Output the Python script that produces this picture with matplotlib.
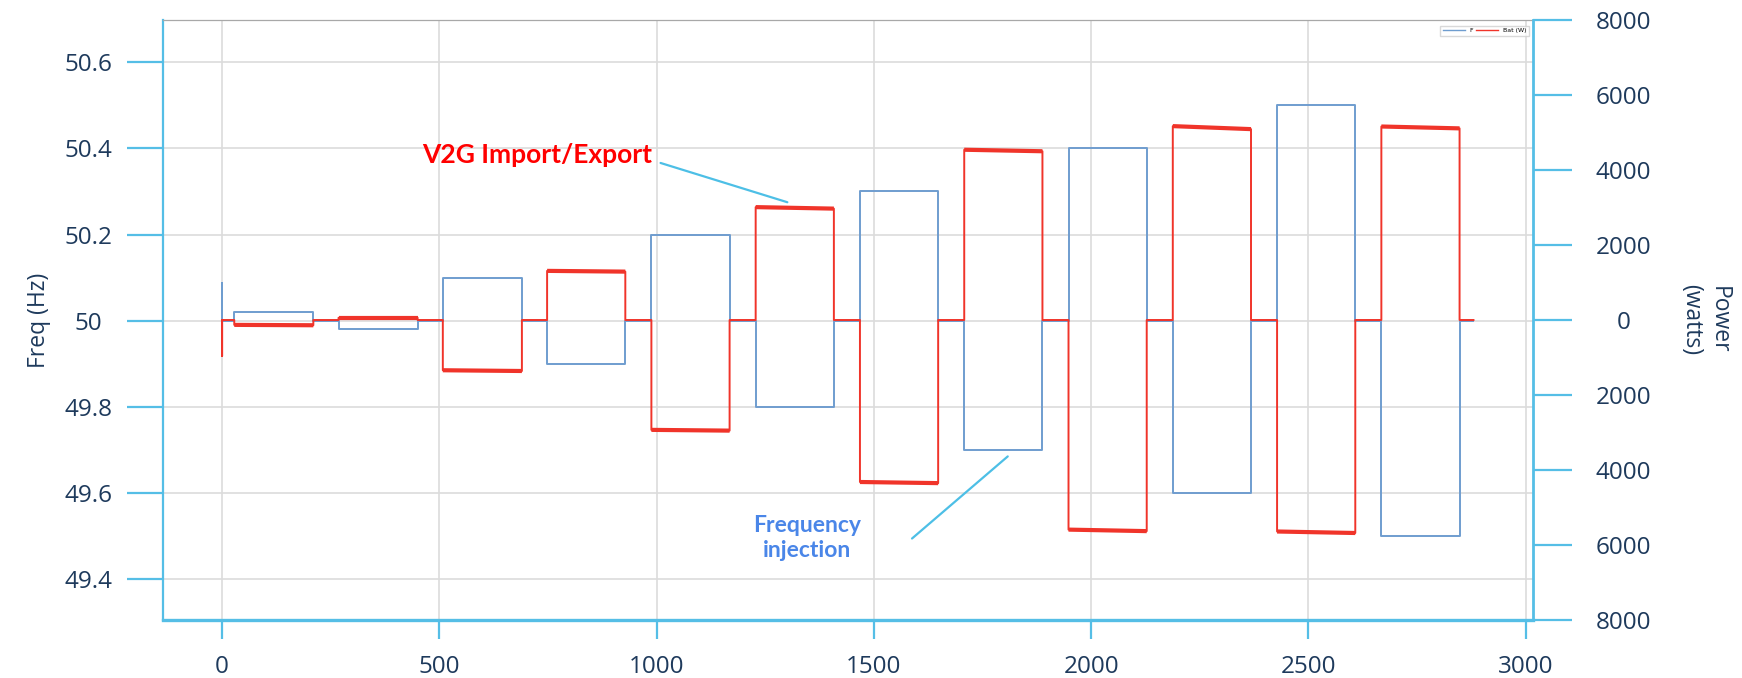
import matplotlib
matplotlib.use("Agg")
import matplotlib.pyplot as plt
from matplotlib.ticker import FuncFormatter
from matplotlib.lines import Line2D

# ---- data (time in s, frequency in Hz, battery power in W) ----
seg_start = [28, 268, 508, 748, 988, 1228, 1468, 1708, 1948, 2188, 2428, 2668]
seg_end = [210, 450, 690, 928, 1168, 1408, 1648, 1888, 2128, 2368, 2608, 2848]
freq_level = [50.02, 49.98, 50.10, 49.90, 50.20, 49.80, 50.30, 49.70, 50.40, 49.60, 50.50, 49.50]
power_start = [-130, 60, -1340, 1310, -2930, 3010, -4320, 4540, -5590, 5170, -5640, 5160]
power_end = [-140, 60, -1360, 1290, -2950, 2970, -4350, 4500, -5630, 5090, -5680, 5110]
spike_freq = 50.088
spike_power = -960
t_end = 2880
nominal_freq = 50.0

x_ticks = [0, 500, 1000, 1500, 2000, 2500, 3000]
freq_ticks = [49.4, 49.6, 49.8, 50.0, 50.2, 50.4, 50.6]
freq_tick_labels = ["49.4", "49.6", "49.8", "50", "50.2", "50.4", "50.6"]
power_ticks = [-8000, -6000, -4000, -2000, 0, 2000, 4000, 6000, 8000]

# ---- build step traces ----
ft, fv = [0, 0, 0], [nominal_freq, spike_freq, nominal_freq]
pt, pv = [0, 0, 0], [0, spike_power, 0]
for s, e, f, p0, p1 in zip(seg_start, seg_end, freq_level, power_start, power_end):
    ft += [s, s, e, e]
    fv += [nominal_freq, f, f, nominal_freq]
    pt += [s, s, e, e]
    pv += [0, p0, p1, 0]
ft.append(t_end); fv.append(nominal_freq)
pt.append(t_end); pv.append(0)

BLUE = "#6F9DCF"
RED = "#F0342A"
SPINE = "#55BEE6"
TXT = "#1E3A5C"

fig = plt.figure(figsize=(17.42, 6.78), dpi=100)
ax = fig.add_axes([163/1742, 1-620/678, 1370/1742, 600/678])
ax2 = ax.twinx()

ax.plot(ft, fv, color=BLUE, lw=1.4, zorder=3)
ax2.plot(pt, pv, color=RED, lw=1.4, zorder=3)
for s, e, p0, p1 in zip(seg_start, seg_end, power_start, power_end):
    ax2.plot([s, e], [p0, p1], color=RED, lw=3.0, solid_capstyle="butt", zorder=3)

ax.set_xlim(-136, 3017)
ax.set_ylim(49.305, 50.698)
ax2.set_ylim(-7980, 8000)

ax.set_xticks(x_ticks)
ax.set_yticks(freq_ticks)
ax.set_yticklabels(freq_tick_labels)
ax2.set_yticks(power_ticks)
ax2.yaxis.set_major_formatter(FuncFormatter(lambda v, p: f"{abs(v):.0f}"))

ax.grid(True, color="#DCDCDC", lw=1.2)
ax.set_axisbelow(True)

fs = 17.5
font = "Open Sans"
for a in (ax, ax2):
    for sp in a.spines.values():
        sp.set_visible(False)
ax.spines["left"].set_visible(True)
ax.spines["left"].set_color(SPINE); ax.spines["left"].set_linewidth(1.6)
ax.spines["bottom"].set_visible(True)
ax.spines["bottom"].set_color(SPINE); ax.spines["bottom"].set_linewidth(2.4)
ax.spines["top"].set_visible(True)
ax.spines["top"].set_color("#A8A8A8"); ax.spines["top"].set_linewidth(0.9)
ax2.spines["right"].set_visible(True)
ax2.spines["right"].set_color(SPINE); ax2.spines["right"].set_linewidth(2.0)

ax.tick_params(axis="y", direction="out", length=26, width=1.6, color=SPINE,
               labelcolor=TXT, labelsize=fs, pad=28)
for lab in ax.get_yticklabels():
    lab.set_horizontalalignment("center"); lab.set_family(font)
ax.tick_params(axis="x", direction="out", length=14, width=1.6, color=SPINE,
               labelcolor=TXT, labelsize=fs, pad=11)
for lab in ax.get_xticklabels():
    lab.set_family(font)
ax2.tick_params(axis="y", direction="out", length=28, width=1.6, color=SPINE,
                labelcolor=TXT, labelsize=fs, pad=37)
for lab in ax2.get_yticklabels():
    lab.set_horizontalalignment("center"); lab.set_family(font)

ax.set_ylabel("Freq (Hz)", fontsize=16.5, color=TXT, family=font)
ax.yaxis.set_label_coords((51 - 163) / 1370, 0.5)
ax2.set_ylabel("Power\n(watts)", fontsize=16.5, color=TXT, family=font,
               rotation=270, linespacing=1.2)
ax2.yaxis.set_label_coords((1731 - 163) / 1370, 0.5)

# annotations
ax.text(460, 50.385, "V2G Import/Export", color="#FF0000", fontsize=19,
        fontweight="bold", family="Lato", ha="left", va="center")
ax.annotate("", xy=(1307, 50.273), xytext=(1003, 50.368),
            arrowprops=dict(arrowstyle="-", color="#4DBFE6", lw=1.6))
ax.text(1346, 49.495, "Frequency\ninjection", color="#4A86E8", fontsize=16.5,
        fontweight="bold", family="Lato", ha="center", va="center", linespacing=1.25)
ax.annotate("", xy=(1813, 49.689), xytext=(1583, 49.49),
            arrowprops=dict(arrowstyle="-", color="#4DBFE6", lw=1.6))

handles = [Line2D([], [], color=BLUE, lw=1), Line2D([], [], color=RED, lw=1)]
ax2.legend(handles, ["F", "Bat (W)"], loc="upper right", bbox_to_anchor=(0.999, 0.996),
           ncol=2, fontsize=4.5, handlelength=3.5, columnspacing=0.4,
           frameon=True, fancybox=False, edgecolor="#D0D0D0", borderpad=0.4)

fig.savefig("out.png", dpi=100)
